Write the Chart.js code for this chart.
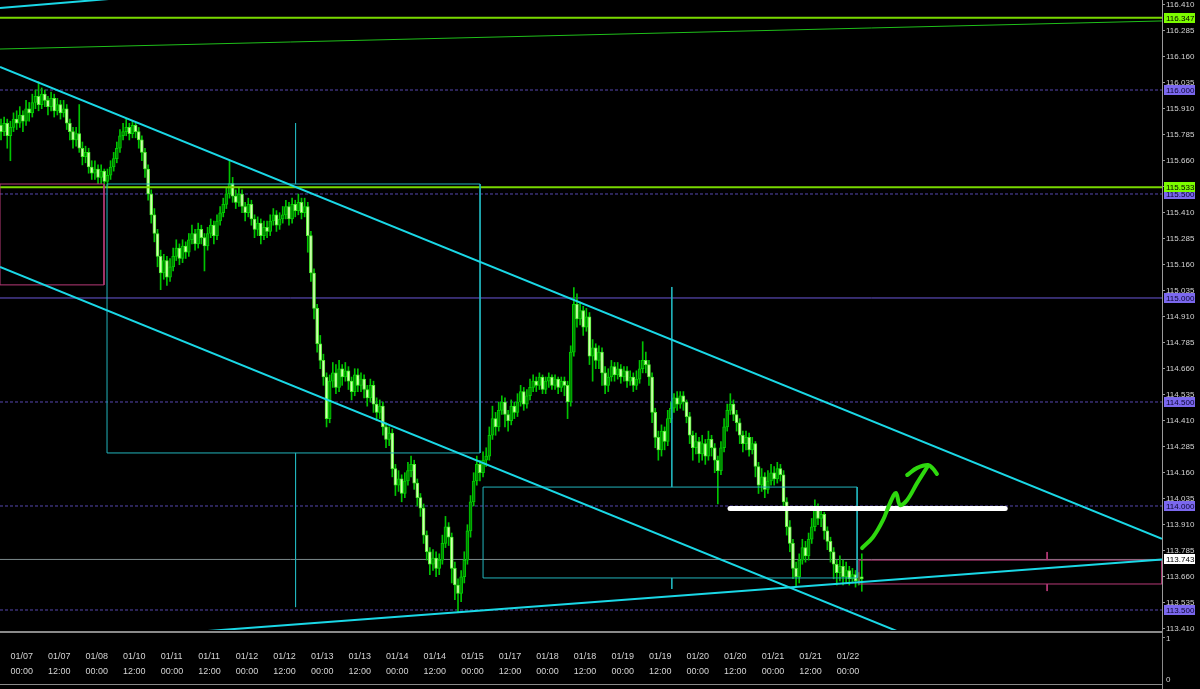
<!DOCTYPE html>
<html>
<head>
<meta charset="utf-8">
<script src="https://cdn.jsdelivr.net/npm/chart.js@4.4.1/dist/chart.umd.min.js"></script>
<style>
  html, body { margin: 0; padding: 0; background: #000; }
  #wrap { width: 1200px; height: 689px; }
</style>
</head>
<body>
<div id="wrap"><canvas id="chart" width="1200" height="689"></canvas></div>
<script>
// H1 candles, bar 3 = 01/07 00:00. Open of each bar = previous close.
const firstOpen = 115.83;
const closes = [
  115.80,115.84,115.78,115.82,115.86,115.84,115.88,115.85,115.91,115.89,
  115.94,115.97,115.93,115.98,115.95,115.92,115.96,115.90,115.93,115.89,
  115.91,115.84,115.80,115.76,115.79,115.72,115.68,115.70,115.63,115.60,
  115.62,115.58,115.61,115.56,115.59,115.63,115.67,115.72,115.78,115.80,
  115.82,115.79,115.83,115.80,115.76,115.70,115.62,115.50,115.40,115.31,
  115.20,115.12,115.18,115.10,115.15,115.20,115.24,115.19,115.25,115.22,
  115.28,115.31,115.26,115.33,115.29,115.25,115.31,115.35,115.30,115.37,
  115.41,115.45,115.50,115.55,115.49,115.46,115.50,115.44,115.41,115.45,
  115.38,115.33,115.36,115.30,115.34,115.32,115.37,115.40,115.35,115.38,
  115.40,115.44,115.38,115.45,115.42,115.46,115.41,115.44,115.30,115.12,
  114.95,114.78,114.70,114.62,114.42,114.60,114.64,114.57,114.66,114.62,
  114.65,114.60,114.55,114.63,114.58,114.61,114.56,114.52,114.58,114.49,
  114.45,114.48,114.38,114.32,114.35,114.18,114.10,114.13,114.06,114.12,
  114.17,114.20,114.11,114.04,113.99,113.86,113.78,113.72,113.75,113.70,
  113.74,113.82,113.90,113.85,113.70,113.62,113.58,113.66,113.74,113.88,
  114.02,114.12,114.20,114.16,114.22,114.24,114.34,114.42,114.38,114.46,
  114.50,114.44,114.41,114.48,114.45,114.50,114.55,114.49,114.53,114.57,
  114.60,114.58,114.62,114.56,114.60,114.62,114.58,114.61,114.57,114.60,
  114.58,114.50,114.74,114.97,114.90,114.94,114.86,114.91,114.72,114.76,
  114.70,114.74,114.64,114.58,114.62,114.67,114.63,114.66,114.62,114.65,
  114.60,114.62,114.58,114.61,114.66,114.70,114.68,114.62,114.45,114.33,
  114.27,114.36,114.31,114.42,114.47,114.52,114.49,114.53,114.50,114.43,
  114.34,114.28,114.31,114.25,114.30,114.24,114.32,114.28,114.22,114.17,
  114.28,114.38,114.46,114.49,114.44,114.40,114.34,114.30,114.33,114.27,
  114.30,114.19,114.10,114.14,114.08,114.12,114.16,114.13,114.18,114.15,
  114.02,113.90,113.82,113.70,113.66,113.74,113.80,113.76,113.84,113.90,
  113.99,113.94,113.96,113.88,113.83,113.78,113.72,113.68,113.71,113.66,
  113.69,113.65,113.67,113.64,113.66,113.65
];
const highs = [
  115.86,115.87,115.86,115.85,115.89,115.90,115.92,115.90,115.95,115.94,
  115.98,116.00,116.04,116.01,116.00,115.97,115.99,115.98,115.96,115.95,
  115.95,115.93,115.86,115.82,115.82,115.93,115.75,115.73,115.72,115.66,
  115.66,115.64,115.64,115.62,115.62,115.66,115.70,115.75,115.81,115.84,
  115.86,115.84,115.85,115.84,115.82,115.78,115.72,115.64,115.52,115.43,
  115.33,115.23,115.21,115.20,115.19,115.24,115.28,115.26,115.28,115.27,
  115.31,115.35,115.33,115.36,115.35,115.31,115.34,115.38,115.37,115.40,
  115.44,115.48,115.53,115.66,115.58,115.52,115.53,115.52,115.46,115.48,
  115.47,115.40,115.39,115.38,115.37,115.37,115.40,115.43,115.42,115.41,
  115.44,115.47,115.46,115.48,115.47,115.50,115.48,115.48,115.46,115.32,
  115.14,114.97,114.82,114.73,114.64,114.63,114.69,114.68,114.70,114.68,
  114.69,114.67,114.62,114.66,114.66,114.64,114.63,114.58,114.61,114.60,
  114.52,114.51,114.50,114.40,114.38,114.37,114.20,114.17,114.15,114.16,
  114.21,114.24,114.22,114.13,114.06,114.01,113.88,113.80,113.79,113.78,
  113.77,113.86,113.95,113.92,113.87,113.73,113.65,113.69,113.78,113.91,
  114.05,114.16,114.24,114.22,114.26,114.28,114.38,114.48,114.45,114.50,
  114.53,114.52,114.46,114.51,114.50,114.54,114.58,114.57,114.56,114.61,
  114.63,114.62,114.64,114.63,114.62,114.64,114.63,114.63,114.62,114.62,
  114.62,114.60,114.77,115.05,115.02,114.98,114.96,114.95,114.93,114.80,
  114.78,114.77,114.76,114.67,114.66,114.70,114.69,114.69,114.68,114.67,
  114.67,114.65,114.64,114.65,114.70,114.79,114.74,114.70,114.64,114.47,
  114.36,114.39,114.38,114.46,114.50,114.54,114.55,114.55,114.55,114.51,
  114.45,114.36,114.35,114.33,114.34,114.32,114.36,114.34,114.30,114.24,
  114.31,114.42,114.49,114.54,114.51,114.46,114.42,114.36,114.36,114.35,
  114.33,114.31,114.21,114.18,114.16,114.17,114.20,114.19,114.21,114.20,
  114.17,114.04,113.93,113.84,113.73,113.77,113.84,113.83,113.87,113.94,
  114.03,114.01,113.99,113.97,113.90,113.85,113.80,113.74,113.76,113.74,
  113.73,113.71,113.70,113.69,113.68,113.77
];
const lows = [
  115.76,115.78,115.72,115.66,115.80,115.81,115.82,115.80,115.83,115.85,
  115.87,115.91,115.90,115.91,115.92,115.88,115.90,115.87,115.88,115.86,
  115.87,115.81,115.76,115.72,115.73,115.70,115.64,115.65,115.60,115.57,
  115.57,115.55,115.55,115.53,115.54,115.57,115.61,115.65,115.70,115.76,
  115.78,115.76,115.77,115.77,115.72,115.66,115.58,115.47,115.36,115.27,
  115.15,115.04,115.09,115.06,115.08,115.13,115.18,115.16,115.17,115.19,
  115.20,115.26,115.23,115.24,115.26,115.13,115.23,115.29,115.26,115.28,
  115.35,115.39,115.43,115.48,115.46,115.43,115.44,115.41,115.37,115.39,
  115.35,115.29,115.30,115.26,115.28,115.29,115.30,115.35,115.32,115.33,
  115.36,115.38,115.35,115.36,115.39,115.40,115.38,115.39,115.22,115.08,
  114.90,114.74,114.66,114.58,114.38,114.40,114.57,114.54,114.55,114.58,
  114.60,114.56,114.51,114.53,114.55,114.55,114.52,114.48,114.50,114.45,
  114.41,114.42,114.34,114.28,114.29,114.14,114.05,114.07,114.02,114.04,
  114.10,114.14,114.08,114.00,113.95,113.82,113.74,113.67,113.69,113.66,
  113.67,113.72,113.80,113.81,113.63,113.55,113.49,113.54,113.63,113.72,
  113.85,114.00,114.10,114.12,114.14,114.19,114.22,114.32,114.34,114.36,
  114.44,114.38,114.36,114.39,114.42,114.43,114.48,114.46,114.47,114.51,
  114.55,114.55,114.56,114.54,114.54,114.57,114.56,114.56,114.54,114.55,
  114.53,114.42,114.48,114.72,114.86,114.87,114.82,114.84,114.68,114.60,
  114.66,114.66,114.58,114.54,114.55,114.60,114.60,114.61,114.59,114.60,
  114.57,114.58,114.55,114.56,114.59,114.64,114.64,114.58,114.40,114.28,
  114.22,114.24,114.27,114.29,114.40,114.45,114.46,114.47,114.46,114.40,
  114.30,114.22,114.25,114.21,114.22,114.20,114.22,114.24,114.16,114.01,
  114.15,114.26,114.36,114.44,114.41,114.36,114.30,114.26,114.27,114.24,
  114.25,114.14,114.06,114.07,114.04,114.06,114.10,114.10,114.11,114.12,
  113.98,113.86,113.78,113.65,113.61,113.63,113.72,113.73,113.74,113.82,
  113.88,113.91,113.90,113.84,113.79,113.73,113.65,113.62,113.64,113.62,
  113.63,113.62,113.63,113.61,113.62,113.59
];

// price scale and time scale labels
const yTicks = [113.410,113.535,113.660,113.785,113.910,114.035,114.160,114.285,114.410,
  114.535,114.660,114.785,114.910,115.035,115.160,115.285,115.410,115.535,115.660,
  115.785,115.910,116.035,116.160,116.285,116.410];
const tickDates = ['01/07','01/07','01/08','01/10','01/11','01/11','01/12','01/12','01/13','01/13',
  '01/14','01/14','01/15','01/17','01/18','01/18','01/19','01/19','01/20','01/20','01/21','01/21','01/22'];
const tickTimes = tickDates.map((d, j) => j % 2 ? '12:00' : '00:00');

// horizontal levels
const roundLevels = [116.0, 115.5, 115.0, 114.5, 114.0, 113.5];
const greenLevels = [116.347, 115.533];
const bidPrice = 113.743;

// drawn objects, in (bar index, price)
const xMin = -0.32, xMax = 370.9;
const trendLines = [
  [[-0.32, 116.394], [38.0, 116.442]],
  [[-0.32, 116.111], [370.9, 113.842]],
  [[-0.32, 115.149], [303.2, 113.295]],
  [[57.2, 113.389], [370.9, 113.743]]
];
const greenSlope = [[-0.32, 116.197], [370.9, 116.332]];
const cyanBoxes = [[33.87, 115.548, 153.04, 114.255], [154.0, 114.091, 273.5, 113.654]];
const cyanStems = [[94.1, 115.841, 115.548], [94.1, 114.255, 113.514], [214.3, 115.053, 114.091], [214.3, 113.654, 113.601]];
const pinkBoxes = [[-0.32, 115.548, 32.9, 115.063], [274.1, 113.740, 370.9, 113.625]];
const pinkStems = [[334.2, 113.779, 113.740], [334.2, 113.625, 113.591]];
const whiteLevel = [232.9, 320.8, 113.988];
const arrowPath = [[275.1, 113.798], [278.6, 113.851], [281.8, 113.933], [284.0, 114.014], [285.9, 114.063],
  [287.2, 114.005], [289.5, 114.029], [292.7, 114.111], [296.0, 114.190]];
const arrowHead = [[289.5, 114.149], [292.7, 114.183], [296.2, 114.197], [297.8, 114.178], [299.0, 114.154]];

const opens = closes.map((c, i) => i ? closes[i - 1] : firstOpen);
const wicks = closes.map((c, i) => ({ x: i, y: [lows[i], highs[i]] }));
const bodies = closes.map((c, i) => ({ x: i, y: [opens[i], c] }));
const isBear = closes.map((c, i) => c < opens[i]);

function line(points, color, width, order, extra) {
  return Object.assign({
    type: 'line',
    data: points.map(([x, y]) => ({ x, y })),
    borderColor: color,
    borderWidth: width,
    pointRadius: 0,
    fill: false,
    tension: 0,
    order
  }, extra || {});
}
function rect([x1, y1, x2, y2], color, order) {
  return line([[x1, y1], [x2, y1], [x2, y2], [x1, y2], [x1, y1]], color, 1, order);
}

const datasets = [
  line(arrowPath, '#2ed80e', 4, 0, { tension: 0.35, borderCapStyle: 'round', borderJoinStyle: 'round' }),
  line(arrowHead, '#2ed80e', 4, 0, { tension: 0.4, borderCapStyle: 'round' }),
  line([[whiteLevel[0], whiteLevel[2]], [whiteLevel[1], whiteLevel[2]]], '#ffffff', 5, 1, { borderCapStyle: 'round' }),
  ...trendLines.map(t => line(t, '#1ad8e6', 2, 2)),
  line(greenSlope, '#1fbf1a', 1, 3),
  ...cyanBoxes.map(b => rect(b, '#22b4bc', 3)),
  ...cyanStems.map(([x, a, b]) => line([[x, a], [x, b]], '#22b4bc', 1, 3)),
  ...pinkBoxes.map(b => rect(b, '#b83a78', 3)),
  ...pinkStems.map(([x, a, b]) => line([[x, a], [x, b]], '#b83a78', 1, 3)),
  ...greenLevels.map(p => line([[xMin, p], [xMax, p]], '#78d800', 2, 3)),
  line([[xMin, bidPrice], [xMax, bidPrice]], '#7c8a8c', 1, 6),
  {
    type: 'bar', data: bodies, grouped: false, order: 4,
    barThickness: 3, borderWidth: 1, borderSkipped: false, minBarLength: 1,
    backgroundColor: isBear.map(b => b ? '#d0ffb0' : '#008400'),
    borderColor: isBear.map(b => b ? '#50f030' : '#00cc00')
  },
  { type: 'bar', data: wicks, grouped: false, order: 5, barThickness: 1, backgroundColor: '#00c400' },
  ...roundLevels.map(p => line([[xMin, p], [xMax, p]], p === 115 ? '#6a58d8' : '#5646b0', 1, 7,
    { borderDash: p === 115 ? [] : [3, 2] }))
];

const frame = {
  id: 'frame',
  beforeDraw(chart) {
    const c = chart.ctx;
    c.save();
    c.fillStyle = '#000';
    c.fillRect(0, 0, chart.width, chart.height);
    c.restore();
  },
  afterDraw(chart) {
    const c = chart.ctx, xs = chart.scales.x, ys = chart.scales.y, a = chart.chartArea;
    c.save();
    c.fillStyle = '#8a8a8a';
    c.fillRect(0, a.bottom + 1, a.right, 2);
    c.fillRect(0, 684, a.right, 1);
    c.fillRect(a.right, a.bottom, 1, chart.height - a.bottom);
    c.fillRect(a.right, 637, 3, 1);
    c.textBaseline = 'middle';
    c.textAlign = 'left';
    c.fillStyle = '#d4d4d4';
    c.font = '8px "Liberation Sans"';
    c.fillText('1', a.right + 4, 639);
    c.fillText('0', a.right + 4, 680);
    c.font = '9px "Liberation Sans"';
    tickDates.forEach((d, j) => {
      const x = xs.getPixelForValue(12 * j + 3);
      c.fillText(d, x, 657);
      c.fillText(tickTimes[j], x, 672);
    });
    c.font = '8px "Liberation Sans"';
    const box = (p, bg, fg) => {
      const y = Math.round(ys.getPixelForValue(p));
      c.fillStyle = bg;
      c.fillRect(a.right + 2, y - 5, 31, 10);
      c.fillStyle = fg;
      c.fillText(p.toFixed(3), a.right + 4, y + 0.5);
    };
    roundLevels.forEach(p => box(p, '#7b68ee', '#0a0530'));
    greenLevels.forEach(p => box(p, '#7cfc00', '#000'));
    box(bidPrice, '#ffffff', '#000');
    c.restore();
  }
};

Chart.defaults.font.family = '"Liberation Sans", Arial, sans-serif';

new Chart(document.getElementById('chart'), {
  type: 'bar',
  data: { datasets },
  options: {
    responsive: false,
    animation: false,
    events: [],
    layout: { padding: { left: 0, top: 0, right: 0, bottom: 59 } },
    plugins: { legend: { display: false }, tooltip: { enabled: false } },
    scales: {
      x: { type: 'linear', min: xMin, max: xMax, offset: false, display: false },
      y: {
        position: 'right',
        min: 113.4038,
        max: 116.4327,
        afterFit: s => { s.width = 38; s.paddingTop = 0; s.paddingBottom = 0; },
        afterBuildTicks: s => { s.ticks = yTicks.map(v => ({ value: v })); },
        ticks: {
          autoSkip: false,
          color: '#d4d4d4',
          font: { size: 8 },
          padding: 1,
          callback: v => Number(v).toFixed(3)
        },
        grid: { drawOnChartArea: false, drawTicks: true, tickLength: 3, color: '#9a9a9a' },
        border: { color: '#9a9a9a' }
      }
    }
  },
  plugins: [frame]
});
</script>
</body>
</html>
